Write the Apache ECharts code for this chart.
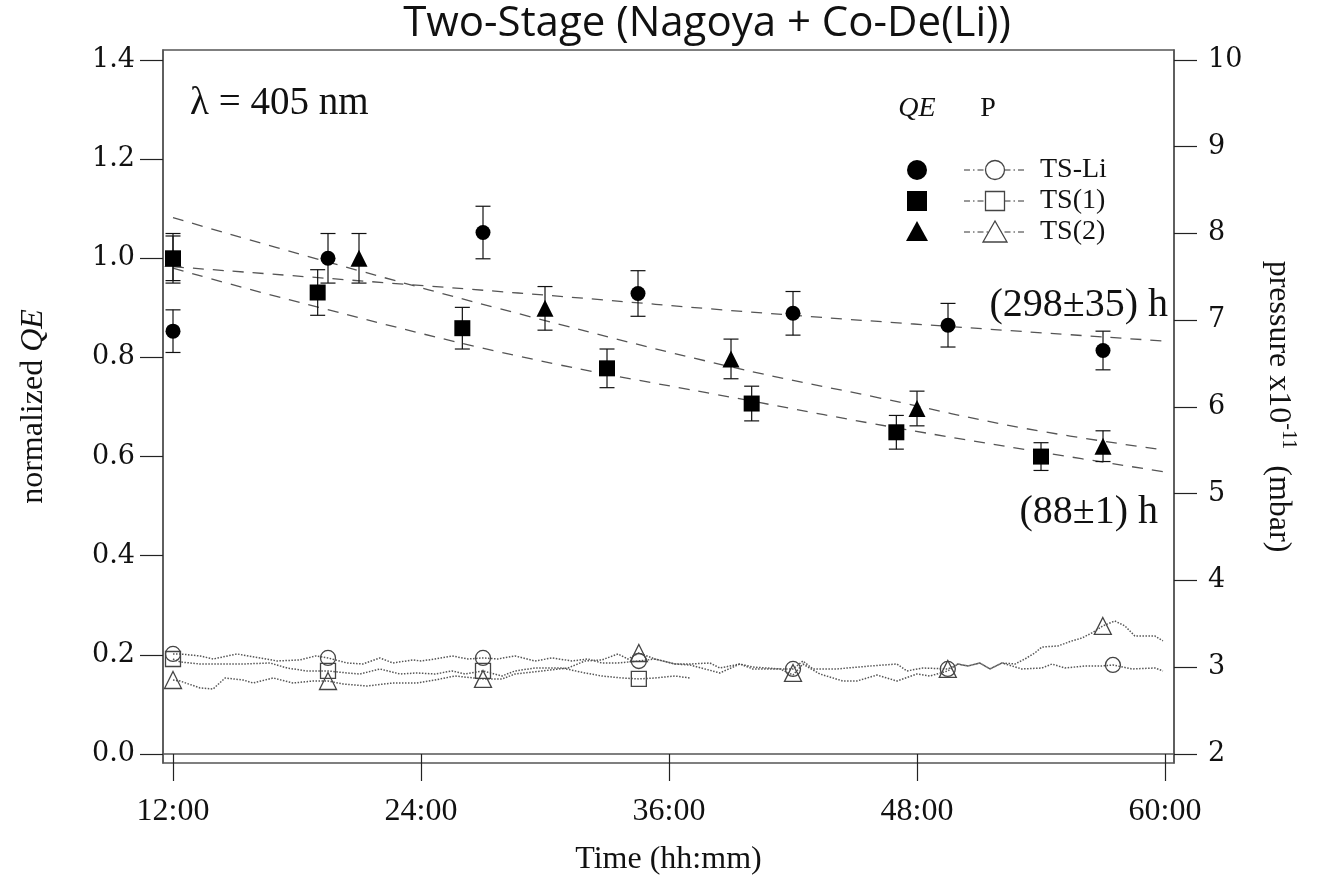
<!DOCTYPE html>
<html>
<head>
<meta charset="utf-8">
<script src="https://cdn.jsdelivr.net/npm/echarts@6/dist/echarts.min.js"></script>
<style>
  html, body { margin: 0; padding: 0; background: #fff; }
  #chart { width: 1330px; height: 879px; }
</style>
</head>
<body>
<div id="chart"></div>
<script>
// ---- QE measurements: [time (h), normalized QE, error] ----
const qeTsLi = [[12, 0.853, 0.043], [19.5, 1.0, 0.05], [27, 1.052, 0.053], [34.5, 0.929, 0.046],
                [42, 0.889, 0.044], [49.5, 0.865, 0.044], [57, 0.814, 0.039]];
const qeTs1  = [[12, 1.0, 0.05], [19, 0.931, 0.046], [26, 0.859, 0.042], [33, 0.778, 0.039],
                [40, 0.707, 0.035], [47, 0.649, 0.034], [54, 0.6, 0.028]];
const qeTs2  = [[12, 1.0, 0.045], [21, 1.0, 0.05], [30, 0.899, 0.044], [39, 0.797, 0.04],
                [48, 0.697, 0.035], [57, 0.621, 0.031]];

// ---- exponential fit curves, sampled points [time, QE] ----
const fitTsLi = [[12, 0.983], [28.7, 0.930], [42, 0.885], [60, 0.833]];
const fitTs1  = [[12, 0.980], [17.66, 0.916], [28.79, 0.802], [40, 0.712], [47, 0.658], [54, 0.609], [60, 0.569]];
const fitTs2  = [[12, 1.082], [19.45, 0.993], [29.3, 0.882], [39, 0.781], [46.1, 0.719], [53.2, 0.657], [60, 0.613]];

// ---- chamber pressure traces [time, p / 1e-11 mbar] ----
const pTsLi = [[12, 3.153], [12.34, 3.153], [13.31, 3.13], [13.94, 3.095], [15.1, 3.153], [16.21, 3.107],
  [17.03, 3.072], [18.14, 3.084], [18.9, 3.13], [19.5, 3.107], [20.42, 3.049], [21.19, 3.037], [22.01, 3.107],
  [22.64, 3.049], [23.61, 3.084], [24.0, 3.072], [24.68, 3.095], [25.5, 3.13], [26.27, 3.095], [27, 3.107],
  [27.72, 3.095], [28.55, 3.13], [29.51, 3.072], [30.34, 3.107], [31.3, 3.072], [32.08, 3.095], [32.75, 3.049],
  [33.53, 3.049], [34.54, 3.072], [35.32, 3.095], [36.29, 3.037], [37.01, 3.037], [37.98, 3.049], [38.46, 2.991],
  [39.43, 3.037], [40.06, 3.002], [41.37, 2.98], [42, 2.98], [42.48, 3.072], [42.96, 2.98], [44.12, 2.98],
  [45.72, 3.014], [47.03, 3.037], [47.51, 2.957], [48.28, 2.991], [49.49, 2.98], [49.98, 3.037], [50.46, 3.014],
  [51.04, 3.049], [51.53, 2.98], [52.11, 3.049], [53.07, 2.98], [54.04, 2.991], [54.53, 3.037], [55.15, 2.991],
  [56.12, 3.014], [56.94, 3.014], [57.48, 3.026], [58.4, 2.98], [59.51, 2.991], [59.9, 2.957]];
const pTs1 = [[12, 3.095], [12.34, 3.061], [13.31, 3.037], [15.39, 3.037], [16.69, 3.049], [17.52, 2.991],
  [18.48, 2.957], [19.5, 2.957], [20.42, 2.934], [21.05, 2.922], [22.01, 2.98], [22.98, 2.922], [23.8, 2.934],
  [24.68, 2.922], [25.5, 2.957], [26.13, 2.922], [27, 2.957], [27.92, 2.899], [28.55, 2.957], [29.51, 2.991],
  [30.82, 2.991], [31.93, 2.934], [32.75, 2.899], [33.72, 2.876], [34.54, 2.865], [35.32, 2.876], [36.29, 2.899],
  [37.01, 2.876]];
const pTs2 = [[12, 2.853], [12.34, 2.841], [13.31, 2.761], [13.94, 2.749], [14.52, 2.876], [15.39, 2.853],
  [15.87, 2.818], [16.84, 2.876], [17.81, 2.818], [18.77, 2.841], [19.5, 2.841], [20.22, 2.807], [21.39, 2.784],
  [22.64, 2.818], [23.8, 2.818], [24.68, 2.853], [25.64, 2.899], [27, 2.865], [27.92, 2.865], [28.55, 2.922],
  [29.85, 2.957], [31.11, 2.991], [31.93, 3.072], [32.75, 3.084], [33.53, 3.153], [34.01, 3.095], [34.54, 3.164],
  [35.32, 3.095], [36.29, 3.037], [37.01, 3.026], [38.46, 2.934], [39.43, 3.037], [40.06, 2.98], [41.37, 2.98],
  [42, 2.91], [42.48, 3.037], [43.3, 2.922], [44.41, 2.841], [45.09, 2.841], [46.06, 2.91], [47.03, 2.841],
  [47.99, 2.922], [48.62, 2.899], [49.49, 2.957], [49.98, 3.037], [50.46, 3.014], [51.04, 3.049], [51.53, 2.98],
  [52.11, 3.049], [52.74, 3.037], [53.22, 3.095], [53.7, 3.164], [54.04, 3.233], [54.82, 3.245], [55.49, 3.303],
  [55.98, 3.337], [56.46, 3.395], [56.99, 3.476], [57.57, 3.533], [58.06, 3.476], [58.54, 3.36], [59.51, 3.36],
  [59.9, 3.303]];

// open markers placed on the pressure traces
const pTsLiMarks = [[12, 3.153], [19.5, 3.107], [27, 3.107], [34.54, 3.072], [42, 2.98], [49.49, 2.98], [57.48, 3.026]];
const pTs1Marks  = [[12, 3.095], [19.5, 2.957], [27, 2.957], [34.54, 2.865]];
const pTs2Marks  = [[12, 2.853], [19.5, 2.841], [27, 2.865], [34.54, 3.164], [42, 2.934], [49.49, 2.98], [56.99, 3.476]];

// ---- axis ticks ----
const timeTicks = [12, 24, 36, 48, 60];
const qeTicks = [0, 0.2, 0.4, 0.6, 0.8, 1.0, 1.2, 1.4];
const pTicks = [2, 3, 4, 5, 6, 7, 8, 9, 10];

const seriesNames = ['TS-Li', 'TS(1)', 'TS(2)'];

const SERIF = 'Liberation Serif';
const TICK_SERIF = 'DejaVu Serif';
const AXIS_COLOR = '#555';

function errorBars(data) {
  return {
    type: 'custom',
    xAxisIndex: 0, yAxisIndex: 0,
    data: data.map(d => [d[0], d[1] - d[2], d[1] + d[2]]),
    encode: { x: 0, y: [1, 2] },
    silent: true,
    z: 3,
    renderItem(params, api) {
      const lo = api.coord([api.value(0), api.value(1)]);
      const hi = api.coord([api.value(0), api.value(2)]);
      const w = 7.5;
      const st = { stroke: '#111', lineWidth: 1.2 };
      return {
        type: 'group',
        children: [
          { type: 'line', shape: { x1: lo[0], y1: lo[1], x2: hi[0], y2: hi[1] }, style: st },
          { type: 'line', shape: { x1: lo[0] - w, y1: lo[1], x2: lo[0] + w, y2: lo[1] }, style: st },
          { type: 'line', shape: { x1: hi[0] - w, y1: hi[1], x2: hi[0] + w, y2: hi[1] }, style: st }
        ]
      };
    }
  };
}

function qeScatter(name, data, symbol, size) {
  return {
    name, type: 'scatter', xAxisIndex: 0, yAxisIndex: 0,
    data: data.map(d => [d[0], d[1]]),
    symbol, symbolSize: size,
    itemStyle: { color: '#000', opacity: 1 },
    z: 4, silent: true
  };
}

function fitLine(data) {
  return {
    type: 'line', xAxisIndex: 0, yAxisIndex: 0, data,
    smooth: 0.4, symbol: 'none',
    lineStyle: { color: '#555', width: 1.3, type: [11, 9] },
    z: 2, silent: true
  };
}

function pressureLine(data) {
  return {
    type: 'line', xAxisIndex: 0, yAxisIndex: 1, data,
    symbol: 'none',
    lineStyle: { color: '#555', width: 1.5, type: [1.5, 1.5] },
    z: 2, silent: true
  };
}

function pressureMarks(data, symbol, size) {
  return {
    type: 'scatter', xAxisIndex: 0, yAxisIndex: 1, data,
    symbol, symbolSize: size,
    itemStyle: { color: 'rgba(255,255,255,0)', borderColor: '#444', borderWidth: 1.3, opacity: 1 },
    z: 3, silent: true
  };
}

// ---- legend drawn as graphic elements ----
const legendX = { qe: 917, line1: 964, line2: 1026, open: 995, text: 1040 };
const legendRows = [170, 201, 232];

function filledSymbol(kind, cx, cy) {
  if (kind === 'circle') return { type: 'circle', shape: { cx, cy, r: 10 }, style: { fill: '#000' } };
  if (kind === 'rect') return { type: 'rect', shape: { x: cx - 10, y: cy - 10, width: 20, height: 20 }, style: { fill: '#000' } };
  return { type: 'polygon', shape: { points: [[cx, cy - 11], [cx + 11, cy + 9], [cx - 11, cy + 9]] }, style: { fill: '#000' } };
}
function openSymbol(kind, cx, cy) {
  const st = { fill: '#fff', stroke: '#444', lineWidth: 1.3 };
  if (kind === 'circle') return { type: 'circle', shape: { cx, cy, r: 9.5 }, style: st };
  if (kind === 'rect') return { type: 'rect', shape: { x: cx - 9.5, y: cy - 9.5, width: 19, height: 19 }, style: st };
  return { type: 'polygon', shape: { points: [[cx, cy - 11], [cx + 12, cy + 10], [cx - 12, cy + 10]] }, style: st };
}

const kinds = ['circle', 'rect', 'triangle'];
const legendGraphics = [
  { type: 'text', x: legendX.qe, y: 109, style: { text: 'QE', font: 'italic 28px "' + SERIF + '"', fill: '#111', align: 'center', verticalAlign: 'middle' } },
  { type: 'text', x: 988, y: 109, style: { text: 'P', font: '28px "' + SERIF + '"', fill: '#111', align: 'center', verticalAlign: 'middle' } }
];
legendRows.forEach((y, i) => {
  legendGraphics.push(filledSymbol(kinds[i], legendX.qe, y));
  legendGraphics.push({ type: 'line', shape: { x1: legendX.line1, y1: y, x2: legendX.line2, y2: y },
    style: { stroke: '#333', lineWidth: 1, lineDash: [6, 3, 1.5, 3] } });
  legendGraphics.push(openSymbol(kinds[i], legendX.open, y));
  legendGraphics.push({ type: 'text', x: legendX.text, y, style: { text: seriesNames[i], font: '28px "' + SERIF + '"', fill: '#111', align: 'left', verticalAlign: 'middle' } });
});

const chart = echarts.init(document.getElementById('chart'), null, { renderer: 'canvas' });

chart.setOption({
  backgroundColor: '#fff',
  animation: false,
  grid: {
    left: 163, right: 156, top: 50, bottom: 116,
    outerBoundsMode: 'none', containLabel: false,
    show: true, borderColor: AXIS_COLOR, borderWidth: 1.5, backgroundColor: 'transparent'
  },
  xAxis: {
    type: 'value', min: 11.516, max: 60.435,
    name: 'Time (hh:mm)', nameLocation: 'middle', nameGap: 81,
    nameTextStyle: { fontFamily: SERIF, fontSize: 32, color: '#111' },
    axisLine: { show: true, lineStyle: { color: AXIS_COLOR, width: 1.5 } },
    axisTick: { show: true, length: 27, customValues: timeTicks, lineStyle: { color: '#222', width: 1.2 } },
    axisLabel: { customValues: timeTicks, margin: 33, formatter: v => v + ':00', fontFamily: SERIF, fontSize: 32, color: '#111' },
    splitLine: { show: false }
  },
  yAxis: [
    {
      type: 'value', position: 'left', min: -0.01816, max: 1.4202,
      name: '{n|normalized }{i|QE}', nameLocation: 'middle', nameGap: 113, nameRotate: 90,
      nameTextStyle: { rich: {
        n: { fontFamily: SERIF, fontSize: 32, color: '#111' },
        i: { fontFamily: SERIF, fontSize: 32, fontStyle: 'italic', color: '#111' }
      } },
      axisLine: { show: true, lineStyle: { color: AXIS_COLOR, width: 1.5 } },
      axisTick: { show: true, length: 23, customValues: qeTicks, lineStyle: { color: '#222', width: 1.2 } },
      axisLabel: { customValues: qeTicks, margin: 28, formatter: v => v.toFixed(1), fontFamily: TICK_SERIF, fontSize: 27, color: '#111' },
      splitLine: { show: false }
    },
    {
      type: 'value', position: 'right', min: 1.896, max: 10.115,
      name: '{n|pressure x10}{s|-11}{n|  (mbar)}', nameLocation: 'middle', nameGap: 84, nameRotate: -90,
      nameTextStyle: { rich: {
        n: { fontFamily: SERIF, fontSize: 32, color: '#111', lineHeight: 40 },
        s: { fontFamily: SERIF, fontSize: 20, color: '#111', verticalAlign: 'top', lineHeight: 40 }
      } },
      axisLine: { show: true, lineStyle: { color: AXIS_COLOR, width: 1.5 } },
      axisTick: { show: true, length: 23, customValues: pTicks, lineStyle: { color: '#222', width: 1.2 } },
      axisLabel: { customValues: pTicks, margin: 34, fontFamily: TICK_SERIF, fontSize: 27, color: '#111' },
      splitLine: { show: false }
    }
  ],
  graphic: [
    { type: 'text', x: 707, y: 24, style: { text: 'Two-Stage (Nagoya + Co-De(Li))', font: '42px "Open Sans"', fill: '#111', align: 'center', verticalAlign: 'middle' } },
    { type: 'text', x: 190, y: 104, style: { text: 'λ = 405 nm', font: '39px "' + SERIF + '"', fill: '#111', align: 'left', verticalAlign: 'middle' } },
    { type: 'text', x: 1168, y: 305, style: { text: '(298±35) h', font: '40px "' + SERIF + '"', fill: '#111', align: 'right', verticalAlign: 'middle' } },
    { type: 'text', x: 1158, y: 512, style: { text: '(88±1) h', font: '40px "' + SERIF + '"', fill: '#111', align: 'right', verticalAlign: 'middle' } },
    ...legendGraphics
  ],
  series: [
    pressureLine(pTsLi), pressureLine(pTs1), pressureLine(pTs2),
    pressureMarks(pTsLiMarks, 'circle', 15),
    pressureMarks(pTs1Marks, 'rect', 15),
    pressureMarks(pTs2Marks, 'triangle', 17),
    fitLine(fitTsLi), fitLine(fitTs1), fitLine(fitTs2),
    errorBars(qeTsLi), errorBars(qeTs1), errorBars(qeTs2),
    qeScatter('TS(2)', qeTs2, 'triangle', 17),
    qeScatter('TS(1)', qeTs1, 'rect', 16),
    qeScatter('TS-Li', qeTsLi, 'circle', 15)
  ]
});
</script>
</body>
</html>
